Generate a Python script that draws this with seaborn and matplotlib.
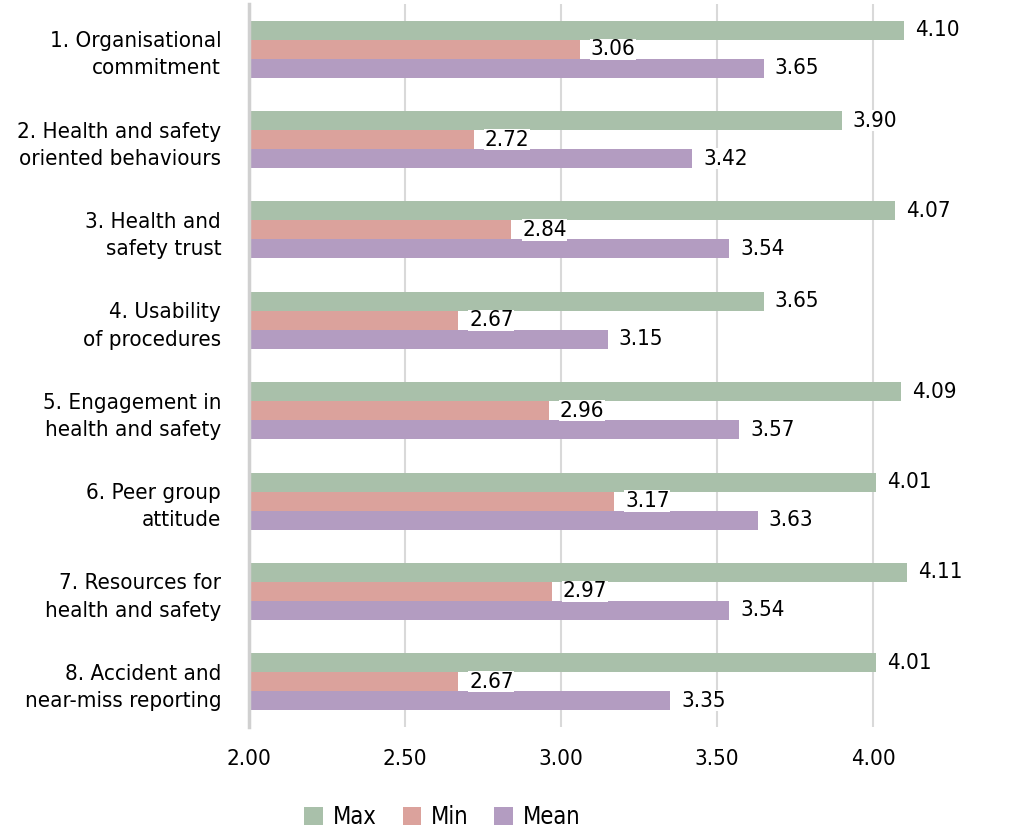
import matplotlib
matplotlib.use("Agg")
import matplotlib.pyplot as plt
import seaborn as sns
import pandas as pd

categories = [
    "1. Organisational\ncommitment",
    "2. Health and safety\noriented behaviours",
    "3. Health and\nsafety trust",
    "4. Usability\nof procedures",
    "5. Engagement in\nhealth and safety",
    "6. Peer group\nattitude",
    "7. Resources for\nhealth and safety",
    "8. Accident and\nnear-miss reporting",
]
max_vals = [4.10, 3.90, 4.07, 3.65, 4.09, 4.01, 4.11, 4.01]
min_vals = [3.06, 2.72, 2.84, 2.67, 2.96, 3.17, 2.97, 2.67]
mean_vals = [3.65, 3.42, 3.54, 3.15, 3.57, 3.63, 3.54, 3.35]
series = ["Max", "Min", "Mean"]
colors = ["#a9c0aa", "#dba29c", "#b39cc1"]

rows = []
for name, vals in zip(series, [max_vals, min_vals, mean_vals]):
    for c, v in zip(categories, vals):
        rows.append({"category": c, "series": name, "value": v})
df = pd.DataFrame(rows)

sns.set_theme(style="white")
plt.rcParams["font.family"] = ["DejaVu Sans"]
plt.rcParams["font.stretch"] = "condensed"

FS = 16

fig = plt.figure(figsize=(10.17, 8.27), dpi=100)
ax = fig.add_axes([249 / 1017, 1 - 727 / 827, (1017 - 249) / 1017, (727 - 4) / 827])

sns.barplot(data=df, y="category", x="value", hue="series", order=categories,
            hue_order=series, palette=colors, width=0.63, orient="h", ax=ax,
            saturation=1, legend=True, linewidth=0)

ax.set_xlim(2.0, 2.0 + (1017 - 249) / 312.0)
ax.set_xticks([2.0, 2.5, 3.0, 3.5, 4.0])
ax.set_xticklabels(["2.00", "2.50", "3.00", "3.50", "4.00"])
ax.xaxis.grid(True, color="#d9d9d9", linewidth=1.5)
ax.set_axisbelow(True)
for s in ["top", "right", "bottom"]:
    ax.spines[s].set_visible(False)
ax.spines["left"].set_color("#d0d0d0")
ax.spines["left"].set_linewidth(2.5)
ax.set_xlabel("")
ax.set_ylabel("")
ax.tick_params(axis="both", length=0, labelsize=FS, colors="black")
ax.tick_params(axis="y", pad=20)
ax.tick_params(axis="x", pad=16)
for t in ax.get_yticklabels():
    t.set_linespacing(1.45)

for cont in ax.containers:
    ax.bar_label(cont, fmt="%.2f", padding=8, fontsize=FS, color="black",
                 bbox=dict(facecolor="white", edgecolor="none", pad=0.5))

leg = ax.get_legend()
handles = leg.legend_handles
leg.remove()
fig.legend(handles, series, loc="lower center", bbox_to_anchor=(0.435, -0.028),
           ncol=3, frameon=False, fontsize=FS + 1, handlelength=0.8,
           handleheight=0.8, handletextpad=0.4, columnspacing=1.1,
           labelcolor="black")

fig.savefig("out.png", dpi=100)
